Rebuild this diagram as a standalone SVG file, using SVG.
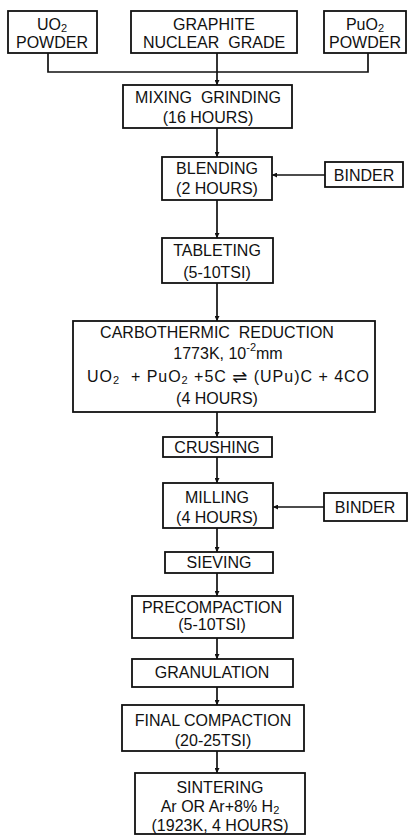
<svg xmlns="http://www.w3.org/2000/svg" width="414" height="836" viewBox="0 0 414 836">
<style>
  .box { fill: #ffffff; stroke: #111; stroke-width: 1.8; }
  .t { font-family: "Liberation Sans", Arial, sans-serif; font-size: 16px; fill: #111; text-anchor: middle; dominant-baseline: central; white-space: pre; }
  .c { fill: none; stroke: #111; stroke-width: 1.7; }
  .sub { font-size: 11px; }
</style>
<defs>
  <marker id="ah" viewBox="0 0 8 8" refX="8" refY="4" markerWidth="5" markerHeight="5" orient="auto" markerUnits="userSpaceOnUse">
    <path d="M0,0 L8,4 L0,8 Z" fill="#111"/>
  </marker>
</defs>
<rect width="414" height="836" fill="#ffffff"/>

<g id="connectors">
  <path class="c" d="M48,53 V72 H368 V53"/>
  <path class="c" d="M217,53 V85" marker-end="url(#ah)"/>
  <path class="c" d="M217,128 V157" marker-end="url(#ah)"/>
  <path class="c" d="M325,175 H272" marker-end="url(#ah)"/>
  <path class="c" d="M217,200 V238" marker-end="url(#ah)"/>
  <path class="c" d="M217,283 V321" marker-end="url(#ah)"/>
  <path class="c" d="M217,412 V437" marker-end="url(#ah)"/>
  <path class="c" d="M217,457 V483" marker-end="url(#ah)"/>
  <path class="c" d="M324,507 H273" marker-end="url(#ah)"/>
  <path class="c" d="M217,528 V552" marker-end="url(#ah)"/>
  <path class="c" d="M217,573 V596" marker-end="url(#ah)"/>
  <path class="c" d="M217,638 V659" marker-end="url(#ah)"/>
  <path class="c" d="M217,687 V705" marker-end="url(#ah)"/>
  <path class="c" d="M217,751 V773" marker-end="url(#ah)"/>
</g>

<g id="uo2">
  <rect class="box" x="8" y="11" width="89" height="42"/>
  <text class="t" x="52" y="24">UO<tspan class="sub" dy="4">2</tspan></text>
  <text class="t" x="52" y="42">POWDER</text>
</g>
<g id="graphite">
  <rect class="box" x="131" y="11" width="166" height="42"/>
  <text class="t" x="214" y="24">GRAPHITE</text>
  <text class="t" x="214" y="42">NUCLEAR  GRADE</text>
</g>
<g id="puo2">
  <rect class="box" x="324" y="11" width="82" height="42"/>
  <text class="t" x="365" y="24">PuO<tspan class="sub" dy="4">2</tspan></text>
  <text class="t" x="365" y="42">POWDER</text>
</g>
<g id="mixing">
  <rect class="box" x="123" y="85" width="169" height="43"/>
  <text class="t" x="208" y="97">MIXING  GRINDING</text>
  <text class="t" x="208" y="117">(16 HOURS)</text>
</g>
<g id="blending">
  <rect class="box" x="162" y="157" width="110" height="43"/>
  <text class="t" x="217" y="168">BLENDING</text>
  <text class="t" x="217" y="188">(2 HOURS)</text>
</g>
<g id="binder1">
  <rect class="box" x="325" y="162" width="78" height="25"/>
  <text class="t" x="364" y="175">BINDER</text>
</g>
<g id="tableting">
  <rect class="box" x="162" y="238" width="111" height="45"/>
  <text class="t" x="217" y="250">TABLETING</text>
  <text class="t" x="217" y="272">(5-10TSI)</text>
</g>
<g id="carbothermic">
  <rect class="box" x="73" y="321" width="302" height="91"/>
  <text class="t" x="217" y="332">CARBOTHERMIC  REDUCTION</text>
  <text class="t" x="228" y="353">1773K, 10<tspan class="sub" dy="-6">-2</tspan><tspan dy="6">mm</tspan></text>
  <text class="t" x="228" y="376" textLength="282" lengthAdjust="spacing">UO<tspan class="sub" dy="4">2</tspan><tspan dy="-4">  + PuO</tspan><tspan class="sub" dy="4">2</tspan><tspan dy="-4"> +5C </tspan><tspan font-family="DejaVu Sans" font-size="18">⇌</tspan> (UPu)C + 4CO</text>
  <text class="t" x="217" y="398">(4 HOURS)</text>
</g>
<g id="crushing">
  <rect class="box" x="163" y="437" width="109" height="20"/>
  <text class="t" x="217" y="447">CRUSHING</text>
</g>
<g id="milling">
  <rect class="box" x="163" y="483" width="110" height="45"/>
  <text class="t" x="217" y="497">MILLING</text>
  <text class="t" x="217" y="517">(4 HOURS)</text>
</g>
<g id="binder2">
  <rect class="box" x="324" y="493" width="83" height="28"/>
  <text class="t" x="365" y="507">BINDER</text>
</g>
<g id="sieving">
  <rect class="box" x="165" y="552" width="108" height="21"/>
  <text class="t" x="219" y="562">SIEVING</text>
</g>
<g id="precompaction">
  <rect class="box" x="132" y="596" width="161" height="42"/>
  <text class="t" x="212" y="607">PRECOMPACTION</text>
  <text class="t" x="212" y="624">(5-10TSI)</text>
</g>
<g id="granulation">
  <rect class="box" x="132" y="659" width="161" height="28"/>
  <text class="t" x="212" y="672">GRANULATION</text>
</g>
<g id="final">
  <rect class="box" x="122" y="705" width="182" height="46"/>
  <text class="t" x="213" y="720">FINAL COMPACTION</text>
  <text class="t" x="213" y="740">(20-25TSI)</text>
</g>
<g id="sintering">
  <rect class="box" x="135" y="773" width="170" height="61"/>
  <text class="t" x="220" y="787">SINTERING</text>
  <text class="t" x="220" y="806">Ar OR Ar+8% H<tspan class="sub" dy="4">2</tspan></text>
  <text class="t" x="220" y="825">(1923K, 4 HOURS)</text>
</g>
</svg>
